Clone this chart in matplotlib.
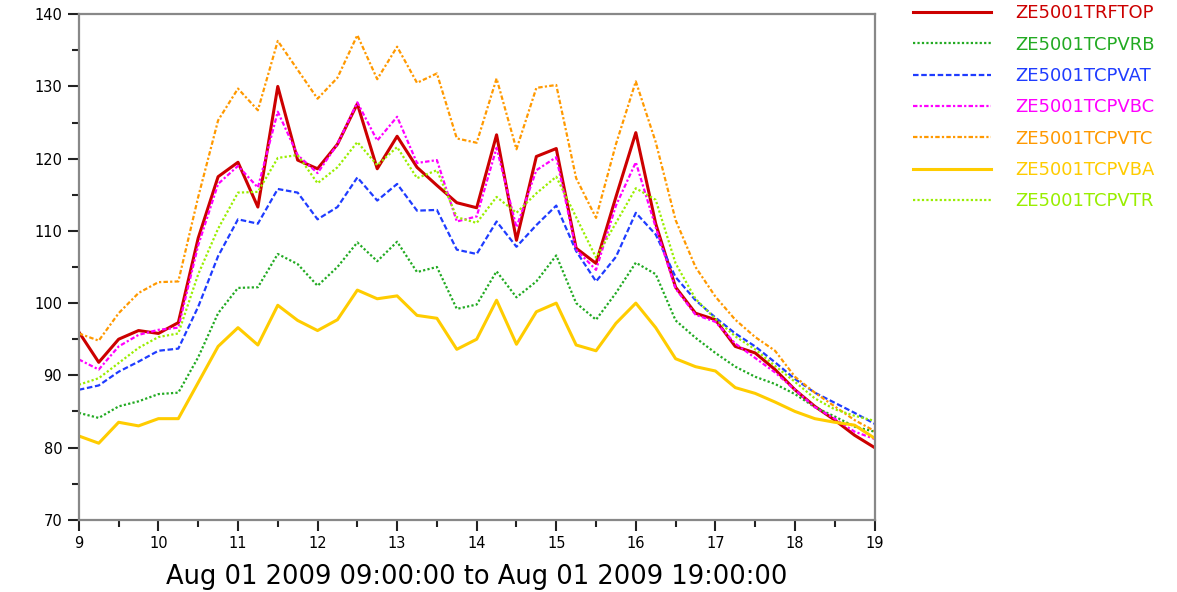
import numpy as np
import matplotlib
matplotlib.use("Agg")
import matplotlib.pyplot as plt
from matplotlib.ticker import MultipleLocator

# readings every 15 minutes, 09:00 .. 19:00
hours = 9 + 0.25 * np.arange(41)

trftop = [96.0, 91.8, 95.0, 96.2, 95.8, 97.3, 109.0, 117.5, 119.5, 113.3,
          130.0, 119.8, 118.6, 122.0, 127.6, 118.6, 123.1, 118.8, 116.3, 113.9,
          113.2, 123.3, 108.7, 120.3, 121.4, 107.6, 105.5, 114.7, 123.6, 111.0,
          102.2, 98.6, 97.7, 94.0, 93.1, 90.8, 88.0, 85.7, 83.8, 81.7, 80.0]
tcpvrb = [84.8, 84.1, 85.7, 86.4, 87.4, 87.6, 92.5, 98.6, 102.1, 102.2,
          106.8, 105.4, 102.4, 105.0, 108.4, 105.8, 108.5, 104.3, 105.0, 99.2,
          99.8, 104.4, 100.8, 103.0, 106.6, 100.0, 97.7, 101.4, 105.6, 104.0,
          97.6, 95.2, 93.1, 91.2, 89.8, 88.8, 87.4, 85.6, 84.3, 82.9, 82.2]
tcpvat = [88.0, 88.6, 90.5, 91.9, 93.4, 93.7, 99.5, 106.5, 111.6, 111.0,
          115.8, 115.3, 111.6, 113.3, 117.4, 114.2, 116.5, 112.8, 112.9, 107.4,
          106.8, 111.3, 107.8, 110.8, 113.5, 107.2, 103.0, 106.4, 112.5, 109.5,
          103.6, 100.4, 98.0, 95.8, 94.0, 91.8, 89.5, 87.6, 86.2, 84.8, 83.3]
tcpvbc = [92.2, 90.8, 94.0, 95.6, 96.3, 96.6, 108.0, 116.5, 119.0, 116.0,
          126.5, 120.5, 118.0, 122.0, 127.8, 122.5, 125.8, 119.4, 119.8, 111.3,
          112.0, 121.5, 110.5, 118.4, 120.2, 107.4, 104.6, 113.5, 119.5, 110.5,
          102.0, 98.4, 97.4, 94.4, 92.4, 90.4, 88.0, 85.6, 84.0, 82.2, 81.2]
tcpvtc = [95.8, 94.8, 98.6, 101.4, 102.9, 103.0, 114.7, 125.3, 129.7, 126.7,
          136.3, 132.3, 128.3, 131.2, 137.1, 131.0, 135.5, 130.5, 131.8, 122.8,
          122.2, 131.1, 121.3, 129.8, 130.2, 117.3, 111.8, 122.0, 130.7, 122.3,
          111.5, 105.0, 100.9, 97.7, 95.3, 93.4, 89.8, 87.6, 85.7, 83.8, 82.3]
tcpvba = [81.6, 80.6, 83.5, 83.0, 84.0, 84.0, 89.0, 94.0, 96.6, 94.2,
          99.7, 97.6, 96.2, 97.7, 101.8, 100.6, 101.0, 98.3, 97.9, 93.6,
          95.0, 100.4, 94.3, 98.8, 100.0, 94.2, 93.4, 97.2, 100.0, 96.6,
          92.3, 91.2, 90.6, 88.3, 87.5, 86.3, 85.0, 84.0, 83.5, 83.1, 81.3]
tcpvtr = [88.7, 89.6, 91.7, 93.8, 95.3, 95.8, 104.0, 110.3, 115.3, 115.4,
          120.1, 120.5, 116.6, 118.8, 122.3, 119.1, 121.6, 117.3, 118.4, 111.9,
          111.1, 114.7, 112.5, 115.2, 117.5, 111.9, 106.3, 111.1, 115.9, 114.3,
          105.5, 100.6, 97.8, 95.4, 93.6, 91.3, 89.1, 86.8, 85.3, 84.4, 83.7]

series = [
    ("ZE5001TRFTOP", trftop, "#cc0000", "-", 2.2),
    ("ZE5001TCPVRB", tcpvrb, "#22aa22", (0, (1, 1)), 1.6),
    ("ZE5001TCPVAT", tcpvat, "#1f3cff", (0, (2.5, 1.2)), 1.6),
    ("ZE5001TCPVBC", tcpvbc, "#ff00ff", (0, (2, 1, 1, 1)), 1.6),
    ("ZE5001TCPVTC", tcpvtc, "#ff9900", (0, (2, 1, 1, 1)), 1.6),
    ("ZE5001TCPVBA", tcpvba, "#ffcc00", "-", 2.2),
    ("ZE5001TCPVTR", tcpvtr, "#99ee00", (0, (1, 1)), 1.6),
]

fig = plt.figure(figsize=(11.77, 5.92), dpi=100)
ax = fig.add_axes([0.067, 0.122, 0.676, 0.854])

for name, vals, color, ls, lw in series:
    ax.plot(hours, vals, color=color, linestyle=ls, linewidth=lw, label=name)

ax.set_xlim(9, 19)
ax.set_ylim(70, 140)
ax.xaxis.set_major_locator(MultipleLocator(1))
ax.xaxis.set_minor_locator(MultipleLocator(0.5))
ax.yaxis.set_major_locator(MultipleLocator(10))
ax.yaxis.set_minor_locator(MultipleLocator(5))
ax.tick_params(which="major", direction="out", length=8, width=1.5, color="#222222",
               labelsize=10.5, pad=4)
ax.tick_params(which="minor", direction="out", length=5, width=1.5, color="#222222")
for side in ["top", "right", "left", "bottom"]:
    ax.spines[side].set_color("#888888")
    ax.spines[side].set_linewidth(1.6)

ax.set_xlabel("Aug 01 2009 09:00:00 to Aug 01 2009 19:00:00", fontsize=18.5, labelpad=9)

fig.legend(loc="upper left", bbox_to_anchor=(0.768, 1.008), frameon=False,
           fontsize=13, handlelength=4.3, handletextpad=1.38, labelspacing=0.74,
           borderpad=0, labelcolor="linecolor")

fig.savefig("out.png", dpi=100)
